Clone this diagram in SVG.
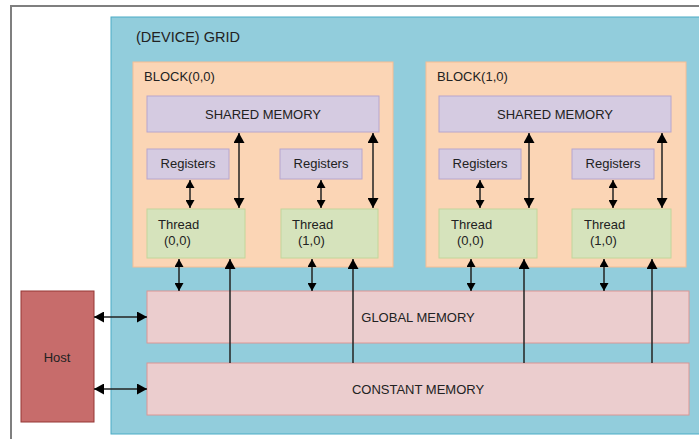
<svg xmlns="http://www.w3.org/2000/svg" width="699" height="439" viewBox="0 0 699 439">
<style>
text{font-family:"Liberation Sans",Arial,sans-serif;font-size:13px;fill:#222}
.blk{fill:#FBD5B5;stroke:#F6BE93;stroke-width:1}
.sh{fill:#D5CBE1;stroke:#B7A6CD;stroke-width:1}
.th{fill:#D6E3BC;stroke:#C2D69B;stroke-width:1}
.mem{fill:#EBCDCE;stroke:#DA9694;stroke-width:1}
.c{stroke:#222;stroke-width:1.5;fill:none}
.s{marker-start:url(#ah);marker-end:url(#ah)}
.b{marker-start:url(#ahL);marker-end:url(#ahL)}
.u{marker-end:url(#ahL)}
</style>
<defs>
<marker id="ah" markerUnits="userSpaceOnUse" markerWidth="9" markerHeight="9" refX="8" refY="4.5" orient="auto-start-reverse"><path d="M0,0 L8,4.5 L0,9 Z" fill="#000"/></marker>
<marker id="ahL" markerUnits="userSpaceOnUse" markerWidth="11" markerHeight="11" refX="10" refY="5.5" orient="auto-start-reverse"><path d="M0,0 L10,5.5 L0,11 Z" fill="#000"/></marker>
</defs>
<rect x="0" y="0" width="699" height="439" fill="#fff"/>
<rect id="frame" x="11" y="6" width="800" height="500" fill="#fff" stroke="#7F7F7F" stroke-width="2"/>
<g id="grid">
<rect x="111" y="17" width="700" height="417" fill="#92CDDC" stroke="#4BACC6" stroke-width="1"/>
<text x="136" y="42" style="font-size:14.5px">(DEVICE) GRID</text>
</g>
<g id="block00">
<rect class="blk" x="133" y="62" width="260" height="205"/>
<text x="144" y="81">BLOCK(0,0)</text>
</g>
<g id="block10">
<rect class="blk" x="426" y="62" width="260" height="205"/>
<text x="437" y="81">BLOCK(1,0)</text>
</g>
<g id="shared0"><rect class="sh" x="147" y="96" width="232" height="36"/><text x="263" y="119" text-anchor="middle">SHARED MEMORY</text></g>
<g id="shared1"><rect class="sh" x="439" y="96" width="232" height="36"/><text x="555" y="119" text-anchor="middle">SHARED MEMORY</text></g>
<g id="reg00"><rect class="sh" x="147" y="149" width="82" height="30"/><text x="188" y="168" text-anchor="middle">Registers</text></g>
<g id="reg01"><rect class="sh" x="280" y="149" width="82" height="30"/><text x="321" y="168" text-anchor="middle">Registers</text></g>
<g id="reg10"><rect class="sh" x="439" y="149" width="82" height="30"/><text x="480" y="168" text-anchor="middle">Registers</text></g>
<g id="reg11"><rect class="sh" x="572" y="149" width="82" height="30"/><text x="613" y="168" text-anchor="middle">Registers</text></g>
<g id="thr00"><rect class="th" x="147" y="209" width="98" height="49"/><text x="158" y="229">Thread</text><text x="164" y="245">(0,0)</text></g>
<g id="thr01"><rect class="th" x="281" y="209" width="97" height="49"/><text x="292" y="229">Thread</text><text x="298" y="245">(1,0)</text></g>
<g id="thr10"><rect class="th" x="439" y="209" width="98" height="49"/><text x="451" y="229">Thread</text><text x="457" y="245">(0,0)</text></g>
<g id="thr11"><rect class="th" x="572" y="209" width="99" height="49"/><text x="584" y="229">Thread</text><text x="590" y="245">(1,0)</text></g>
<g id="global"><rect class="mem" x="147" y="291" width="542" height="52"/><text x="418" y="322" text-anchor="middle">GLOBAL MEMORY</text></g>
<g id="constant"><rect class="mem" x="147" y="363" width="542" height="52"/><text x="418" y="394" text-anchor="middle">CONSTANT MEMORY</text></g>
<g id="host"><rect x="21" y="291" width="73" height="131" fill="#C76C6B" stroke="#953735" stroke-width="1"/><text x="57" y="362" text-anchor="middle">Host</text></g>
<g id="connectors">
<line class="c s" x1="190" y1="180" x2="190" y2="208"/>
<line class="c s" x1="321" y1="180" x2="321" y2="208"/>
<line class="c s" x1="480" y1="180" x2="480" y2="208"/>
<line class="c s" x1="613" y1="180" x2="613" y2="208"/>
<line class="c b" x1="239" y1="133" x2="239" y2="208"/>
<line class="c b" x1="373" y1="133" x2="373" y2="208"/>
<line class="c b" x1="529" y1="133" x2="529" y2="208"/>
<line class="c b" x1="662" y1="133" x2="662" y2="208"/>
<line class="c s" x1="179" y1="259" x2="179" y2="291"/>
<line class="c s" x1="312" y1="259" x2="312" y2="291"/>
<line class="c s" x1="471" y1="259" x2="471" y2="291"/>
<line class="c s" x1="604" y1="259" x2="604" y2="291"/>
<line class="c u" x1="230" y1="363" x2="230" y2="259"/>
<line class="c u" x1="353" y1="363" x2="353" y2="259"/>
<line class="c u" x1="524" y1="363" x2="524" y2="259"/>
<line class="c u" x1="652" y1="363" x2="652" y2="259"/>
<line class="c b" x1="94" y1="317" x2="147" y2="317"/>
<line class="c b" x1="94" y1="389" x2="147" y2="389"/>
</g>
</svg>
